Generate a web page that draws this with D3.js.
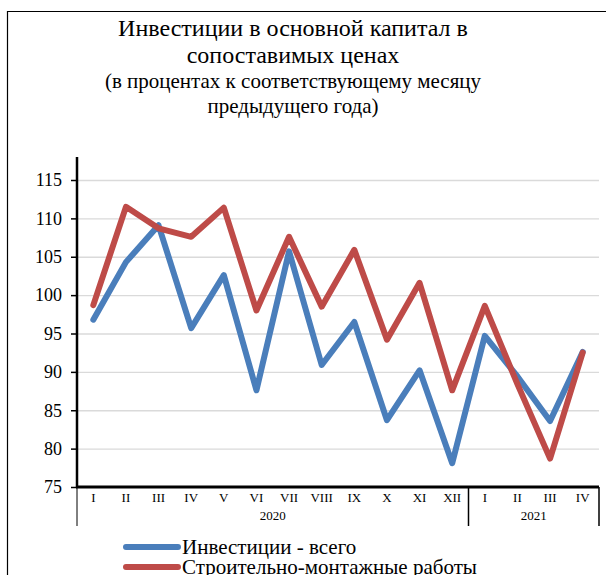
<!DOCTYPE html>
<html>
<head>
<meta charset="utf-8">
<script src="https://cdn.jsdelivr.net/npm/d3@7"></script>
<style>
  body { margin: 0; background: #fff; }
  svg { display: block; font-family: "Liberation Serif", "DejaVu Serif", serif; }
</style>
</head>
<body>
<svg id="chart" width="606" height="575"></svg>
<script>
var months = ["I", "II", "III", "IV", "V", "VI", "VII", "VIII", "IX", "X", "XI", "XII", "I", "II", "III", "IV"];
var years = [{ label: "2020", from: 0, to: 12 }, { label: "2021", from: 12, to: 16 }];
var investTotal = [96.8, 104.3, 109.1, 95.7, 102.6, 87.6, 105.7, 90.9, 96.5, 83.7, 90.2, 78.1, 94.7, 89.4, 83.6, 92.6];
var construction = [98.7, 111.5, 108.7, 107.6, 111.4, 98.0, 107.6, 98.5, 105.9, 94.2, 101.6, 87.6, 98.6, 88.4, 78.7, 92.5];
var yTicks = [75, 80, 85, 90, 95, 100, 105, 110, 115];
var seriesNames = ["Инвестиции - всего", "Строительно-монтажные работы"];
var colors = ["#4A7EBB", "#BE4B48"];

var svg = d3.select("#chart");

// outer frame (left and top edges are visible)
svg.append("path")
    .attr("d", "M7.5,575V11.5H610")
    .attr("fill", "none").attr("stroke", "#000").attr("stroke-width", 1.2);

var titleLines = [
  { t: "Инвестиции в основной капитал в", y: 36, s: 24 },
  { t: "сопоставимых ценах", y: 63, s: 24 },
  { t: "(в процентах к соответствующему месяцу", y: 88, s: 21 },
  { t: "предыдущего года)", y: 113, s: 21 }
];
svg.selectAll("text.title").data(titleLines).enter().append("text")
    .attr("class", "title")
    .attr("x", 293).attr("y", function(d) { return d.y; })
    .attr("text-anchor", "middle")
    .attr("font-size", function(d) { return d.s; })
    .text(function(d) { return d.t; });

var pLeft = 77, pRight = 599, pTop = 180, pBottom = 487;

var x = d3.scaleBand().domain(d3.range(months.length)).range([pLeft, pRight]);
var y = d3.scaleLinear().domain([75, 115]).range([pBottom, pTop]);

// gridlines
svg.append("g").selectAll("line").data(yTicks.slice(1)).enter().append("line")
    .attr("x1", pLeft).attr("x2", pRight)
    .attr("y1", function(d) { return y(d) + 0.5; })
    .attr("y2", function(d) { return y(d) + 0.5; })
    .attr("stroke", "#dadada").attr("stroke-width", 1.3);

// y axis
var yAxis = svg.append("g")
    .attr("transform", "translate(" + pLeft + ",0)")
    .call(d3.axisLeft(y).tickValues(yTicks).tickSize(6).tickPadding(9));
yAxis.select(".domain").remove();
yAxis.selectAll(".tick line").attr("stroke", "#000").attr("stroke-width", 1.5);
yAxis.selectAll(".tick text")
    .attr("font-family", "Liberation Serif, serif")
    .attr("font-size", 18).attr("fill", "#000");
svg.append("line")
    .attr("x1", pLeft).attr("x2", pLeft).attr("y1", 157).attr("y2", pBottom)
    .attr("stroke", "#000").attr("stroke-width", 2.5);

// month labels
svg.append("g").selectAll("text").data(months).enter().append("text")
    .attr("x", function(d, i) { return x(i) + x.bandwidth() / 2; })
    .attr("y", 502)
    .attr("text-anchor", "middle")
    .attr("font-size", 13)
    .text(function(d) { return d; });

// year group separators and labels
var seps = [0, 12, 16];
function sepX(d) { return d === 16 ? pRight : (d === 0 ? pLeft : x(d)); }
svg.append("g").selectAll("line").data(seps).enter().append("line")
    .attr("x1", sepX).attr("x2", sepX)
    .attr("y1", pBottom).attr("y2", 526)
    .attr("stroke", "#000").attr("stroke-width", function(d) { return d === 0 ? 1 : 1.5; });
svg.append("g").selectAll("text").data(years).enter().append("text")
    .attr("x", function(d) { return (sepX(d.from) + sepX(d.to)) / 2; })
    .attr("y", 520)
    .attr("text-anchor", "middle")
    .attr("font-size", 13)
    .text(function(d) { return d.label; });

// lines
var line = d3.line()
    .x(function(d, i) { return x(i) + x.bandwidth() / 2; })
    .y(function(d) { return y(d); });

[investTotal, construction].forEach(function(s, k) {
  svg.append("path")
      .datum(s)
      .attr("d", line)
      .attr("fill", "none")
      .attr("stroke", colors[k])
      .attr("stroke-width", 6)
      .attr("stroke-linejoin", "round")
      .attr("stroke-linecap", "round");
});

// x axis line on top
svg.append("line")
    .attr("x1", pLeft - 1).attr("x2", pRight).attr("y1", pBottom).attr("y2", pBottom)
    .attr("stroke", "#000").attr("stroke-width", 3);

// legend
var legend = svg.append("g").selectAll("g").data(seriesNames).enter().append("g")
    .attr("transform", function(d, i) { return "translate(0," + (547 + i * 20) + ")"; });
legend.append("line")
    .attr("x1", 126).attr("x2", 178).attr("y1", 0).attr("y2", 0)
    .attr("stroke", function(d, i) { return colors[i]; })
    .attr("stroke-width", 6).attr("stroke-linecap", "round");
legend.append("text")
    .attr("x", 182).attr("y", 7)
    .attr("font-size", 21)
    .text(function(d) { return d; });
</script>
</body>
</html>
